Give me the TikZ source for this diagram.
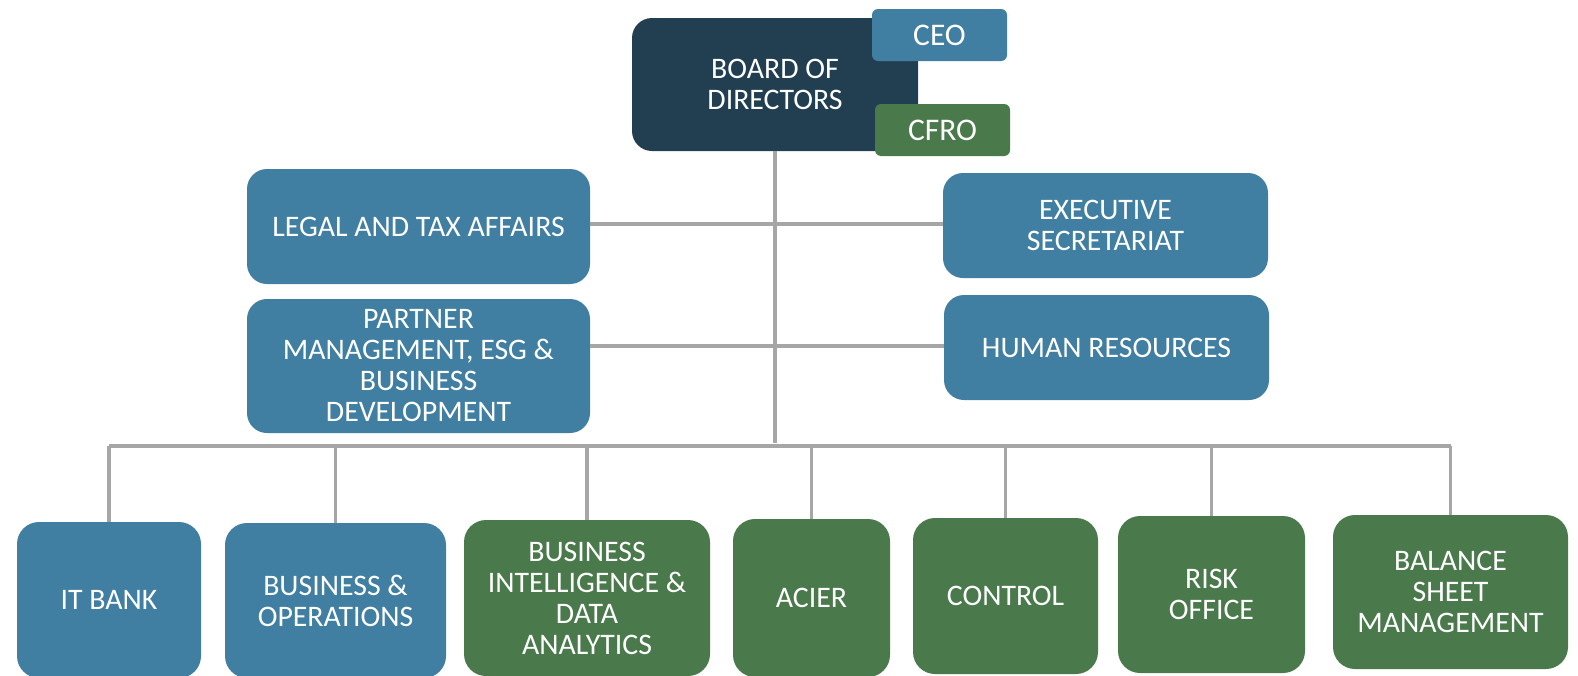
\documentclass[tikz,border=0pt]{standalone}
\usepackage{fontspec}
\setmainfont{Carlito}
\definecolor{bblue}{RGB}{64,126,162}
\definecolor{bgreen}{RGB}{74,122,75}
\definecolor{bdark}{RGB}{34,63,81}
\definecolor{lgray}{RGB}{166,166,166}
\begin{document}
\begin{tikzpicture}[x=1pt,y=-1pt,
  box/.style={rounded corners=20pt, text=white, align=center, inner sep=0pt,
    font=\fontsize{29.8}{31}\selectfont},
  tag/.style={box, rounded corners=6pt, font=\fontsize{31.5}{34}\selectfont},
  conn/.style={draw=lgray, line width=3.3pt}]
\useasboundingbox (0,0) rectangle (1578,675);
\clip (0,0) rectangle (1578,675);
\coordinate (bus) at (775,446);
\coordinate (t1) at (775,224);
\coordinate (t2) at (775,346);
% nodes
\node[box, fill=bdark, minimum width=286pt, minimum height=133pt] (board) at (775,84.5) {BOARD OF\\DIRECTORS};
\node[tag, fill=bblue, minimum width=135pt, minimum height=52pt] (ceo) at (939.5,35) {CEO};
\node[tag, fill=bgreen, minimum width=135pt, minimum height=52pt] (cfro) at (942.5,130) {CFRO};
\node[box, fill=bblue, minimum width=343pt, minimum height=115pt] (legal) at (418.5,226.5) {LEGAL AND TAX AFFAIRS};
\node[box, fill=bblue, minimum width=343pt, minimum height=134pt] (partner) at (418.5,366) {PARTNER\\MANAGEMENT, ESG \&\\BUSINESS\\DEVELOPMENT};
\node[box, fill=bblue, minimum width=325pt, minimum height=105pt] (exec) at (1105.5,225.5) {EXECUTIVE\\SECRETARIAT};
\node[box, fill=bblue, minimum width=325pt, minimum height=105pt] (hr) at (1106.5,347.5) {HUMAN RESOURCES};
\node[box, rounded corners=22pt, fill=bblue, minimum width=184pt, minimum height=156pt] (it) at (109,600) {IT BANK};
\node[box, rounded corners=22pt, fill=bblue, minimum width=221pt, minimum height=155pt] (bo) at (335.5,600.5) {BUSINESS \&\\OPERATIONS};
\node[box, rounded corners=22pt, fill=bgreen, minimum width=246pt, minimum height=156pt] (bi) at (587,598) {BUSINESS\\INTELLIGENCE \&\\DATA\\ANALYTICS};
\node[box, rounded corners=22pt, fill=bgreen, minimum width=157pt, minimum height=158pt] (acier) at (811.5,598) {ACIER};
\node[box, rounded corners=22pt, fill=bgreen, minimum width=185pt, minimum height=156pt] (control) at (1005.5,596) {CONTROL};
\node[box, rounded corners=22pt, fill=bgreen, minimum width=187pt, minimum height=157pt] (risk) at (1211.5,594.5) {RISK\\OFFICE};
\node[box, rounded corners=22pt, fill=bgreen, minimum width=235pt, minimum height=154pt] (bal) at (1450.5,592) {BALANCE\\SHEET\\MANAGEMENT};
% connectors
\draw[conn] (board.south) -- ([yshift=3pt]bus);
\draw[conn] (legal.east |- t1) -- (t1) -- (t1 -| exec.west);
\draw[conn] (partner.east |- t2) -- (t2) -- (t2 -| hr.west);
\draw[conn] (bus -| it.north) -- (bus -| bal.north);
\foreach \n in {it,bo,bi,acier,control,risk,bal}
  \draw[conn] (bus -| \n.north) -- (\n.north);
\end{tikzpicture}
\end{document}
